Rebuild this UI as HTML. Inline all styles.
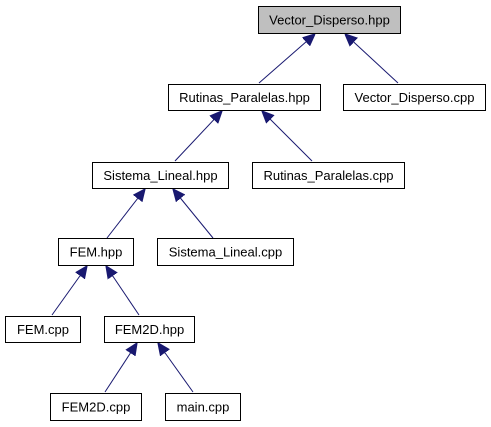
<!DOCTYPE html>
<html><head><style>body{margin:0;background:#fff}svg{display:block}</style></head><body>
<svg width="491" height="427" xmlns="http://www.w3.org/2000/svg" font-family="Liberation Sans, Arial, sans-serif" font-size="13">
<defs><marker id="a" markerWidth="10" markerHeight="10" refX="9" refY="5" orient="auto" markerUnits="userSpaceOnUse"><path d="M0,0 L10,5 L0,10 z" fill="#191970"/></marker>
<marker id="b" viewBox="0 0 10 10" markerWidth="12" markerHeight="12" refX="10" refY="5" orient="auto" markerUnits="userSpaceOnUse"><path d="M0,0.5 L10,5 L0,9.5 z" fill="#191970" stroke="#191970"/></marker></defs>
<g stroke="#191970" stroke-width="1" marker-end="url(#b)">
<line x1="259" y1="83" x2="315" y2="34"/>
<line x1="398" y1="83" x2="345" y2="34"/>
<line x1="175" y1="161" x2="222" y2="111"/>
<line x1="312" y1="161" x2="262" y2="111"/>
<line x1="107" y1="238" x2="145" y2="189"/>
<line x1="213" y1="238" x2="173" y2="189"/>
<line x1="52" y1="315" x2="87" y2="266"/>
<line x1="139" y1="315" x2="106" y2="266"/>
<line x1="105" y1="392" x2="137" y2="343"/>
<line x1="193" y1="392" x2="158" y2="343"/>
</g>
<g stroke="#000" stroke-width="1" fill="#fff">
<rect x="258.5" y="6.5" width="142" height="27" fill="#bfbfbf"/>
<rect x="168.5" y="84.5" width="152" height="26"/>
<rect x="343.5" y="84.5" width="142" height="26"/>
<rect x="92.5" y="162.5" width="136" height="26"/>
<rect x="252.5" y="162.5" width="152" height="26"/>
<rect x="58.5" y="238.5" width="75" height="27"/>
<rect x="157.5" y="238.5" width="136" height="27"/>
<rect x="5.5" y="316.5" width="75" height="26"/>
<rect x="104.5" y="316.5" width="90" height="26"/>
<rect x="50.5" y="393.5" width="91" height="27"/>
<rect x="165.5" y="393.5" width="75" height="27"/>
</g>
<g text-anchor="middle" fill="#000">
<text x="329.5" y="24.5">Vector_Disperso.hpp</text>
<text x="244.5" y="102">Rutinas_Paralelas.hpp</text>
<text x="414.5" y="102">Vector_Disperso.cpp</text>
<text x="160.5" y="180">Sistema_Lineal.hpp</text>
<text x="328.5" y="180">Rutinas_Paralelas.cpp</text>
<text x="96" y="256.5">FEM.hpp</text>
<text x="225.5" y="256.5">Sistema_Lineal.cpp</text>
<text x="43" y="334">FEM.cpp</text>
<text x="149.5" y="334">FEM2D.hpp</text>
<text x="96" y="411.5">FEM2D.cpp</text>
<text x="203" y="411.5">main.cpp</text>
</g>
</svg>
</body></html>
